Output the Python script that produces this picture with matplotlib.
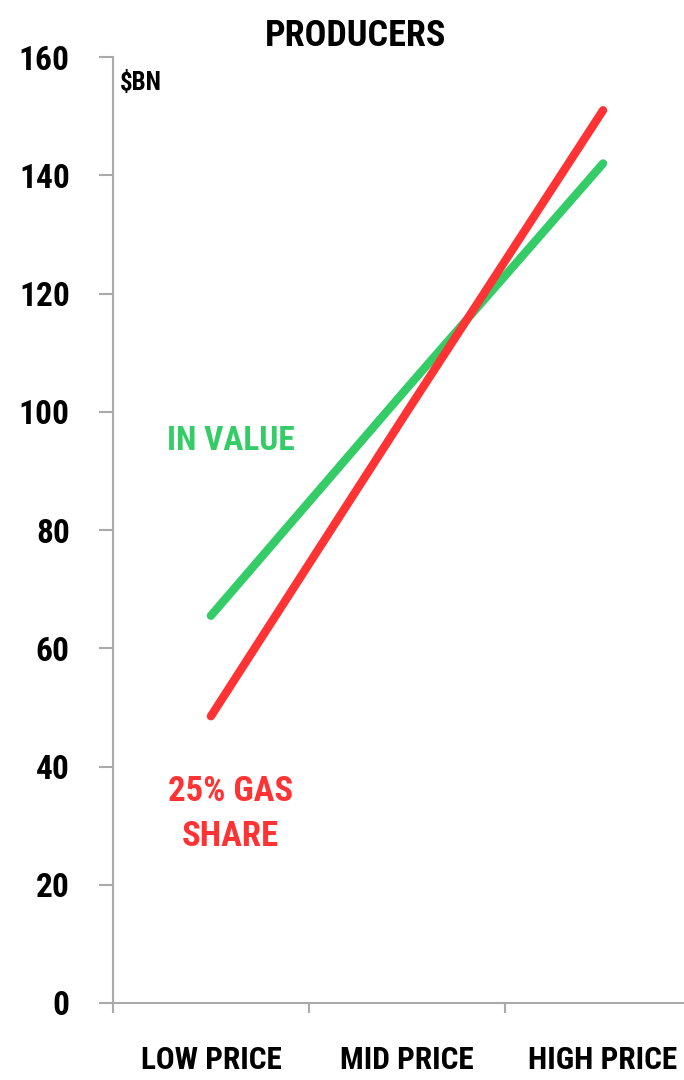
import matplotlib
matplotlib.use("Agg")
import matplotlib.pyplot as plt
from matplotlib.ticker import FixedLocator

plt.rcParams['font.family'] = ['Roboto Condensed', 'Liberation Sans Narrow', 'Roboto', 'DejaVu Sans']
plt.rcParams['font.weight'] = 'bold'

# data
categories = ['LOW PRICE', 'MID PRICE', 'HIGH PRICE']
in_value = [65.5, 104, 142]
gas_share = [48.5, 100, 151]
yticks = [0, 20, 40, 60, 80, 100, 120, 140, 160]

green = '#33cc66'
red = '#ff3333'
grey = '#aaaaaa'

fig = plt.figure(figsize=(6.84, 10.8), dpi=100)
ax = fig.add_axes([0.165, 0.0713, 0.86, 0.8759])

x = range(len(categories))
ax.plot(x, in_value, color=green, lw=6, solid_capstyle='round')
ax.plot(x, gas_share, color=red, lw=6, solid_capstyle='round')

ax.set_xlim(-0.5, 2.5)
ax.set_ylim(0, 160)
ax.set_yticks(yticks)
ax.set_xticks(list(x))
ax.set_xticklabels(categories)
ax.xaxis.set_minor_locator(FixedLocator([-0.5, 0.5, 1.5, 2.5]))

for s in ['top', 'right']:
    ax.spines[s].set_visible(False)
for s in ['left', 'bottom']:
    ax.spines[s].set_color(grey)
    ax.spines[s].set_linewidth(1.5)

ax.tick_params(axis='y', length=10, width=1.5, color=grey, pad=21, labelsize=24)
ax.tick_params(axis='x', which='major', length=0, pad=30, labelsize=22.5)
ax.tick_params(axis='x', which='minor', length=7, width=1.5, color=grey)

ax.text(0.012, 0.985, '$BN', transform=ax.transAxes, fontsize=18,
        ha='left', va='top')
ax.text(0.1, 95, 'IN VALUE', color=green, fontsize=24, ha='center', va='center')
ax.text(0.1, 32, '25% GAS\nSHARE', color=red, fontsize=25, ha='center',
        va='center', linespacing=1.45)

fig.text(0.52, 0.967, 'PRODUCERS', fontsize=26, ha='center', va='center')

fig.savefig('out.png', dpi=100)
